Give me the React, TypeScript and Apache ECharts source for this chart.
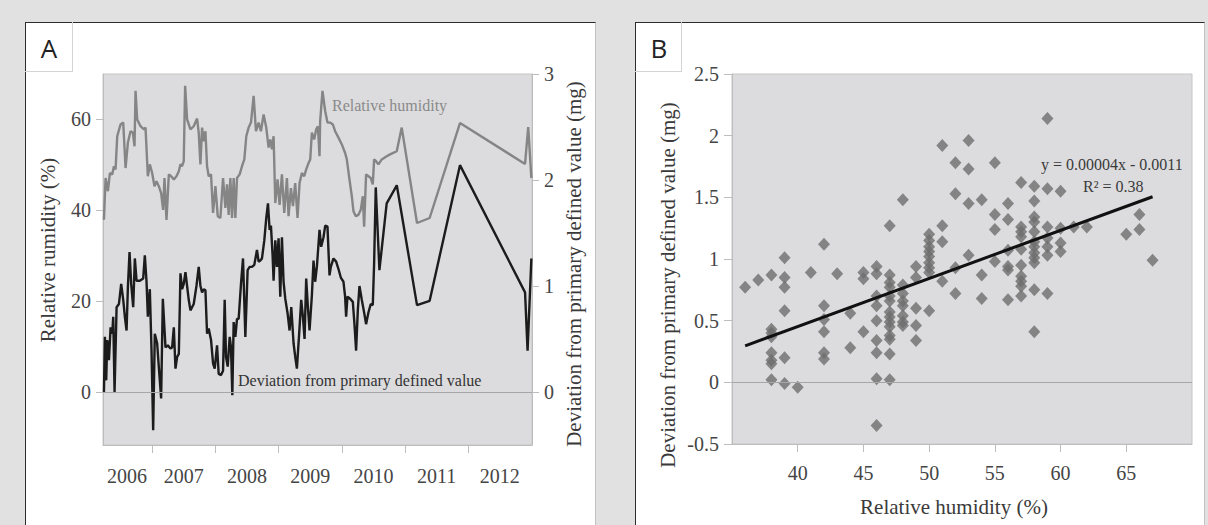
import React, { useEffect, useRef } from "react";
import * as echarts from "echarts";

// ---- Panel A: time series ----
const yearTicks = [2007, 2008, 2009, 2010, 2011, 2012];
const yearLabelPositions = [2006.6, 2007.5, 2008.5, 2009.5, 2010.5, 2011.5, 2012.5];
const humidityTicks = [0, 20, 40, 60];
const deviationTicks = [0, 1, 2, 3];

const humidityDates = [
  2006.235, 2006.261, 2006.298, 2006.329, 2006.366, 2006.393, 2006.419, 2006.445, 2006.498, 2006.54,
  2006.577, 2006.614, 2006.656, 2006.693, 2006.719, 2006.735, 2006.761, 2006.814, 2006.867, 2006.893,
  2006.93, 2006.961, 2006.998, 2007.035, 2007.067, 2007.103, 2007.14, 2007.172, 2007.193, 2007.225,
  2007.262, 2007.298, 2007.341, 2007.383, 2007.42, 2007.446, 2007.472, 2007.498, 2007.52, 2007.551,
  2007.604, 2007.656, 2007.709, 2007.735, 2007.762, 2007.788, 2007.814, 2007.841, 2007.867, 2007.893,
  2007.93, 2007.962, 2007.999, 2008.036, 2008.078, 2008.12, 2008.157, 2008.183, 2008.209, 2008.236,
  2008.262, 2008.288, 2008.315, 2008.341, 2008.383, 2008.42, 2008.457, 2008.488, 2008.525, 2008.562,
  2008.604, 2008.641, 2008.683, 2008.72, 2008.762, 2008.804, 2008.841, 2008.868, 2008.894, 2008.92,
  2008.947, 2008.983, 2009.015, 2009.052, 2009.089, 2009.131, 2009.157, 2009.194, 2009.226, 2009.262,
  2009.299, 2009.331, 2009.368, 2009.405, 2009.436, 2009.473, 2009.5, 2009.526, 2009.563, 2009.594,
  2009.621, 2009.647, 2009.657, 2009.694, 2009.737, 2009.773, 2009.815, 2009.858, 2009.894, 2009.947,
  2010.0, 2010.052, 2010.079, 2010.121, 2010.158, 2010.184, 2010.221, 2010.263, 2010.3, 2010.332,
  2010.353, 2010.384, 2010.421, 2010.458, 2010.49, 2010.511, 2010.542, 2010.579, 2010.632, 2010.711,
  2010.763, 2010.869, 2010.948, 2011.19, 2011.39, 2011.87, 2012.9, 2012.95, 2013.0,
];
const humidityValues = [
  37.9, 47.1, 44.2, 48.2, 47.9, 49.7, 49.0, 56.3, 58.9, 59.3,
  49.3, 54.9, 57.4, 57.1, 54.1, 66.3, 60.0, 58.5, 57.8, 58.2,
  47.5, 50.1, 48.2, 45.3, 46.4, 45.3, 43.8, 40.1, 47.1, 37.9,
  47.9, 47.5, 46.8, 47.5, 48.6, 50.1, 49.7, 50.8, 67.4, 60.0,
  57.8, 58.5, 60.2, 57.1, 50.1, 58.2, 55.2, 57.4, 49.7, 47.5,
  47.9, 39.4, 45.3, 38.7, 38.3, 47.1, 40.5, 45.7, 39.0, 47.1,
  38.3, 47.1, 38.3, 47.1, 47.9, 49.7, 51.2, 56.3, 58.2, 59.3,
  65.2, 57.4, 59.3, 57.4, 61.1, 58.2, 53.8, 55.6, 53.4, 56.3,
  41.6, 46.8, 41.2, 47.9, 39.4, 47.1, 38.7, 44.9, 40.9, 46.0,
  38.3, 46.0, 48.2, 47.5, 49.0, 50.4, 51.2, 57.1, 55.6, 57.8,
  58.5, 51.9, 59.6, 66.3, 61.8, 59.3, 59.3, 58.9, 57.4, 56.0,
  54.5, 52.6, 51.2, 46.8, 43.1, 39.8, 38.7, 39.0, 40.1, 43.1,
  36.4, 47.9, 47.5, 47.1, 45.7, 51.2, 50.8, 50.1, 51.2, 51.9,
  52.3, 53.0, 58.2, 37.2, 38.3, 59.2, 50.2, 58.3, 47.1,
];

const deviationDates = [
  2006.235, 2006.25, 2006.271, 2006.287, 2006.314, 2006.34, 2006.366, 2006.382, 2006.403, 2006.435,
  2006.472, 2006.508, 2006.54, 2006.566, 2006.593, 2006.614, 2006.64, 2006.666, 2006.698, 2006.724,
  2006.751, 2006.803, 2006.856, 2006.882, 2006.909, 2006.93, 2006.961, 2006.988, 2007.014, 2007.04,
  2007.077, 2007.103, 2007.14, 2007.167, 2007.209, 2007.246, 2007.288, 2007.314, 2007.341, 2007.367,
  2007.393, 2007.42, 2007.446, 2007.472, 2007.498, 2007.525, 2007.551, 2007.577, 2007.604, 2007.656,
  2007.699, 2007.735, 2007.762, 2007.788, 2007.814, 2007.841, 2007.867, 2007.893, 2007.93, 2007.962,
  2007.988, 2008.025, 2008.051, 2008.088, 2008.12, 2008.146, 2008.167, 2008.194, 2008.225, 2008.246,
  2008.267, 2008.288, 2008.315, 2008.341, 2008.367, 2008.404, 2008.436, 2008.473, 2008.509, 2008.541,
  2008.578, 2008.615, 2008.657, 2008.683, 2008.71, 2008.736, 2008.773, 2008.804, 2008.831, 2008.857,
  2008.878, 2008.904, 2008.92, 2008.947, 2008.973, 2008.999, 2009.026, 2009.052, 2009.078, 2009.105,
  2009.142, 2009.173, 2009.2, 2009.236, 2009.263, 2009.289, 2009.331, 2009.357, 2009.384, 2009.41,
  2009.436, 2009.463, 2009.489, 2009.526, 2009.552, 2009.578, 2009.605, 2009.647, 2009.673, 2009.71,
  2009.737, 2009.773, 2009.805, 2009.826, 2009.868, 2009.91, 2009.947, 2009.984, 2010.026, 2010.052,
  2010.068, 2010.089, 2010.131, 2010.174, 2010.2, 2010.226, 2010.253, 2010.279, 2010.316, 2010.353,
  2010.384, 2010.421, 2010.458, 2010.49, 2010.511, 2010.537, 2010.595, 2010.71, 2010.87, 2011.19,
  2011.39, 2011.87, 2012.9, 2012.94, 2013.0,
];
const deviationValues = [
  0.0, 0.52, 0.11, 0.49, 0.3, 0.61, 0.55, 0.71, 0.0, 0.8,
  0.83, 1.02, 0.87, 0.71, 0.58, 0.99, 1.32, 1.02, 0.8, 1.26,
  1.05, 1.05, 1.07, 1.29, 1.04, 0.71, 0.97, 0.39, -0.36, 0.55,
  0.46, 0.24, -0.06, 0.88, 0.42, 0.44, 0.41, 0.42, 0.61, 0.22,
  0.33, 0.36, 1.12, 0.97, 1.02, 1.13, 1.0, 0.87, 0.77, 0.83,
  1.0, 1.18, 1.0, 0.94, 0.97, 0.96, 0.55, 0.6, 0.49, 0.27,
  0.22, 0.44, 0.17, 0.16, 0.2, 0.87, 0.33, 0.24, 0.52, 0.42,
  -0.03, 0.66, 0.52, 0.69, 0.69, 1.02, 1.26, 0.52, 1.15, 1.18,
  1.18, 1.2, 1.34, 1.23, 1.24, 1.26, 1.43, 1.64, 1.78, 1.53,
  1.57, 1.29, 1.05, 1.43, 1.18, 1.45, 0.9, 1.46, 1.04, 0.88,
  0.74, 0.58, 0.8, 0.46, 0.33, 0.22, 0.61, 0.87, 0.71, 0.5,
  1.07, 0.8, 0.58, 0.91, 1.24, 1.04, 1.18, 1.53, 1.37, 1.46,
  1.57, 1.56, 1.1, 1.18, 1.26, 1.23, 1.16, 1.08, 1.04, 0.9,
  0.71, 0.9, 0.88, 0.85, 0.64, 0.39, 0.77, 1.0, 0.87, 0.75,
  0.64, 0.75, 0.83, 0.82, 1.21, 1.93, 1.15, 1.78, 1.95, 0.82,
  0.86, 2.14, 0.94, 0.39, 1.26,
];

// ---- Panel B: scatter of deviation against relative humidity ----
const scatterHumidity = [
  36, 37,
  38, 38, 38, 38, 38, 38, 38, 38,
  39, 39, 39, 39, 39, 39,
  40, 41,
  42, 42, 42, 42, 42, 42,
  43, 44, 44,
  45, 45, 45,
  46, 46, 46, 46, 46, 46, 46, 46, 46,
  47, 47, 47, 47, 47, 47, 47, 47, 47, 47, 47, 47, 47, 47,
  48, 48, 48, 48, 48, 48, 48, 48,
  49, 49, 49, 49, 49,
  50, 50, 50, 50, 50, 50, 50, 50, 50,
  51, 51, 51, 51,
  52, 52, 52, 52,
  53, 53, 53, 53,
  54, 54, 54,
  55, 55, 55, 55,
  56, 56, 56, 56, 56, 56,
  57, 57, 57, 57, 57, 57, 57, 57, 57, 57,
  58, 58, 58, 58, 58, 58, 58, 58, 58, 58, 58, 58,
  59, 59, 59, 59, 59, 59, 59,
  60, 60, 60, 60,
  61, 62, 65, 66, 66, 67,
];
const scatterDeviation = [
  0.77, 0.83,
  0.87, 0.43, 0.4, 0.37, 0.24, 0.18, 0.15, 0.02,
  1.01, 0.85, 0.77, 0.58, 0.2, -0.01,
  -0.04, 0.89,
  1.12, 0.62, 0.51, 0.41, 0.24, 0.19,
  0.88, 0.56, 0.28,
  0.89, 0.84, 0.41,
  0.94, 0.88, 0.7, 0.62, 0.5, 0.34, 0.24, 0.03, -0.35,
  1.27, 0.87, 0.81, 0.77, 0.7, 0.66, 0.57, 0.53, 0.49, 0.45, 0.38, 0.35, 0.23, 0.02,
  1.48, 0.79, 0.72, 0.66, 0.62, 0.54, 0.49, 0.46,
  0.94, 0.85, 0.6, 0.46, 0.34,
  1.2, 1.15, 1.1, 1.06, 1.02, 0.97, 0.93, 0.89, 0.58,
  1.92, 1.27, 1.14, 0.82,
  1.78, 1.53, 0.93, 0.72,
  1.96, 1.73, 1.45, 1.03,
  1.48, 0.87, 0.68,
  1.78, 1.36, 1.24, 0.98,
  1.45, 1.32, 1.07, 0.94, 0.91, 0.67,
  1.62, 1.26, 1.22, 1.18, 1.08, 0.95, 0.86, 0.82, 0.78, 0.7,
  1.59, 1.47, 1.34, 1.3, 1.22, 1.14, 1.1, 1.05, 1.01, 0.97, 0.75, 0.41,
  2.14, 1.57, 1.26, 1.17, 1.1, 1.03, 0.72,
  1.55, 1.25, 1.13, 1.06,
  1.26, 1.26, 1.2, 1.36, 1.24, 0.99,
];

// Least-squares trend in mg per % RH (printed in grams on the chart)
const trendSlope = 0.039;
const trendIntercept = -1.108;
const trendRange = [36, 67];

const SERIF = '"Liberation Serif", "Times New Roman", serif';
const SANS = '"Open Sans", "DejaVu Sans", sans-serif';
const AXIS_GRAY = "#bdbdbd";
const TICK_TEXT = "#454545";
const TITLE_TEXT = "#3a3a3a";

function label(text: string, x: number, y: number, font: string, fill: string, rotation = 0, align = "center") {
  return {
    type: "text",
    x,
    y,
    rotation,
    silent: true,
    z: 100,
    style: {
      text,
      font,
      fill,
      align,
      verticalAlign: "middle",
      textAlign: align,
      textVerticalAlign: "middle",
    },
  };
}

export default function App() {
  const ref = useRef<HTMLDivElement>(null);

  useEffect(() => {
    if (!ref.current) return;
    const chart = echarts.init(ref.current, undefined, { renderer: "svg" });

    const humiditySeries = humidityDates.map((d, i) => [d, humidityValues[i]]);
    const deviationSeries = deviationDates.map((d, i) => [d, deviationValues[i]]);
    const scatterPoints = scatterHumidity.map((h, i) => [h, scatterDeviation[i]]);
    const trendPoints = trendRange.map((h) => [h, trendSlope * h + trendIntercept]);

    const tickLabel = { color: TICK_TEXT, fontFamily: SERIF, fontSize: 20 };
    const axisLine = { show: true, onZero: false, lineStyle: { color: AXIS_GRAY, width: 1 } };
    const zeroLine = {
      silent: true,
      symbol: "none",
      label: { show: false },
      lineStyle: { color: "#a6a6a6", width: 1, type: "solid" },
      data: [{ yAxis: 0 }],
    };

    chart.setOption({
      animation: false,
      backgroundColor: "transparent",
      grid: [
        { left: 103, top: 74, width: 429, height: 371, show: true, backgroundColor: "#dcdcde", borderColor: "#c6c6c6", borderWidth: 1 },
        { left: 732, top: 74, width: 460, height: 370, show: true, backgroundColor: "#dcdcde", borderColor: "#c6c6c6", borderWidth: 1 },
      ],
      xAxis: [
        {
          gridIndex: 0,
          type: "value",
          min: 2006.22,
          max: 2013.01,
          axisLine,
          axisTick: { show: true, customValues: yearTicks, length: 8, lineStyle: { color: AXIS_GRAY } },
          axisLabel: { ...tickLabel, customValues: yearLabelPositions, margin: 21, formatter: (v: number) => String(Math.floor(v)) },
          splitLine: { show: false },
        },
        {
          gridIndex: 1,
          type: "value",
          min: 35,
          max: 70,
          interval: 5,
          axisLine,
          axisTick: { show: true, length: 8, lineStyle: { color: AXIS_GRAY } },
          axisLabel: { ...tickLabel, margin: 19, showMinLabel: false, showMaxLabel: false },
          splitLine: { show: false },
        },
      ],
      yAxis: [
        {
          gridIndex: 0,
          type: "value",
          min: -35 / 3,
          max: 70,
          axisLine,
          axisTick: { show: true, customValues: humidityTicks, length: 7, lineStyle: { color: AXIS_GRAY } },
          axisLabel: { ...tickLabel, customValues: humidityTicks, margin: 12 },
          splitLine: { show: false },
        },
        {
          gridIndex: 0,
          type: "value",
          position: "right",
          min: -0.5,
          max: 3,
          axisLine,
          axisTick: { show: true, customValues: deviationTicks, length: 7, lineStyle: { color: AXIS_GRAY } },
          axisLabel: { ...tickLabel, customValues: deviationTicks, margin: 12 },
          splitLine: { show: false },
        },
        {
          gridIndex: 1,
          type: "value",
          min: -0.5,
          max: 2.5,
          interval: 0.5,
          axisLine,
          axisTick: { show: true, length: 8, lineStyle: { color: AXIS_GRAY } },
          axisLabel: { ...tickLabel, margin: 13, formatter: (v: number) => String(v) },
          splitLine: { show: false },
        },
      ],
      series: [
        {
          name: "Relative humidity",
          type: "line",
          xAxisIndex: 0,
          yAxisIndex: 0,
          data: humiditySeries,
          showSymbol: false,
          lineStyle: { color: "#858585", width: 2.4 },
          z: 2,
          markLine: zeroLine,
        },
        {
          name: "Deviation from primary defined value",
          type: "line",
          xAxisIndex: 0,
          yAxisIndex: 1,
          data: deviationSeries,
          showSymbol: false,
          lineStyle: { color: "#1c1c1c", width: 2.4 },
          z: 3,
        },
        {
          name: "Deviation vs humidity",
          type: "scatter",
          xAxisIndex: 1,
          yAxisIndex: 2,
          data: scatterPoints,
          symbol: "diamond",
          symbolSize: [12, 13],
          itemStyle: { color: "#6e6e6e" },
          z: 3,
          markLine: zeroLine,
        },
        {
          name: "Trend",
          type: "line",
          xAxisIndex: 1,
          yAxisIndex: 2,
          data: trendPoints,
          showSymbol: false,
          lineStyle: { color: "#111111", width: 3 },
          z: 5,
        },
      ],
      graphic: [
        label("A", 49, 48, `26px ${SANS}`, "#222222"),
        label("B", 659, 48, `26px ${SANS}`, "#222222"),
        label("Relative rumidity (%)", 48, 250, `21px ${SERIF}`, TITLE_TEXT, Math.PI / 2),
        label("Deviation from primary defined value (mg)", 574, 264, `21px ${SERIF}`, TITLE_TEXT, Math.PI / 2),
        label("Deviation from primary defined value (mg)", 668, 285, `21px ${SERIF}`, TITLE_TEXT, Math.PI / 2),
        label("Relative humidity (%)", 954, 507, `21px ${SERIF}`, TITLE_TEXT),
        label("Relative humidity", 332, 105, `16px ${SERIF}`, "#8a8a8a", 0, "left"),
        label("Deviation from primary defined value", 238, 380, `16px ${SERIF}`, "#333333", 0, "left"),
        label("y = 0.00004x - 0.0011", 1041, 164, `16px ${SERIF}`, "#3a3a3a", 0, "left"),
        label("R\u00B2 = 0.38", 1083, 186, `16px ${SERIF}`, "#3a3a3a", 0, "left"),
      ],
    });

    return () => chart.dispose();
  }, []);

  const panel = (left: number, width: number): React.CSSProperties => ({
    position: "absolute",
    left,
    top: 21.5,
    width,
    height: 520,
    background: "#ffffff",
    boxSizing: "border-box",
    borderTop: "1.5px solid #2c2c2c",
    borderLeft: "1.5px solid #2c2c2c",
    borderRight: "1px solid #c2c2c2",
  });
  const tag = (left: number, width: number): React.CSSProperties => ({
    position: "absolute",
    left,
    top: 21.5,
    width,
    height: 50.5,
    boxSizing: "border-box",
    borderRight: "1px solid #d4d4d4",
    borderBottom: "1px solid #d4d4d4",
  });

  return (
    <div style={{ position: "fixed", left: 0, top: 0, width: 1208, height: 525, background: "#e1e1e1", overflow: "hidden" }}>
      <div style={panel(25, 571)} />
      <div style={panel(635, 570)} />
      <div style={tag(25, 48)} />
      <div style={tag(635, 47)} />
      <div ref={ref} style={{ position: "absolute", left: 0, top: 0, width: 1208, height: 525 }} />
    </div>
  );
}
